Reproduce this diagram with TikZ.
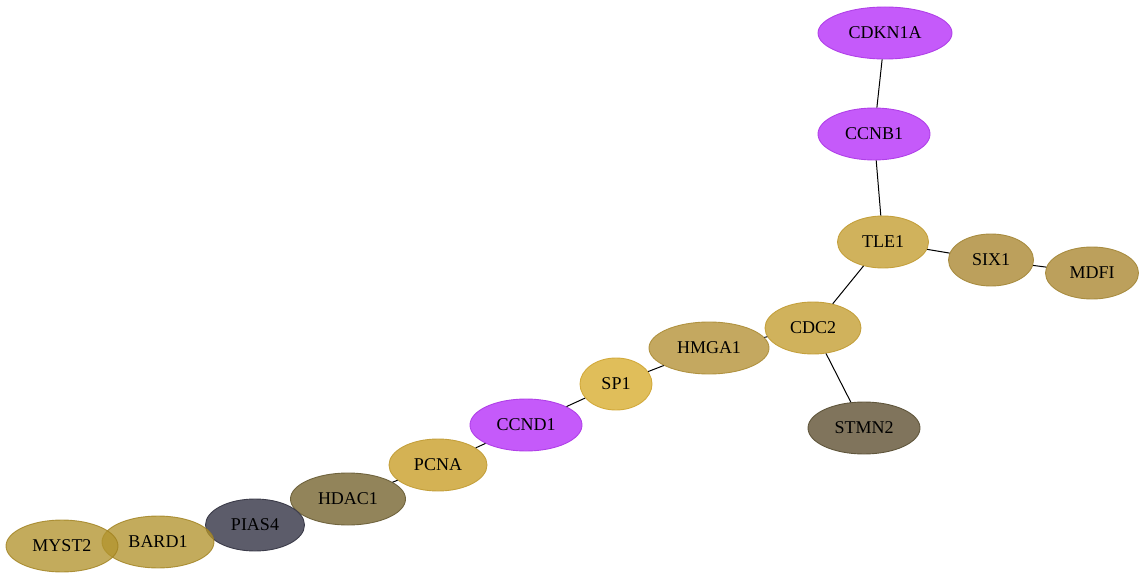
\documentclass[tikz,border=0pt]{standalone}
\usepackage{fontspec}
\setmainfont{Liberation Serif}
\usetikzlibrary{shapes.geometric}
\definecolor{purp}{RGB}{197,90,250}
\definecolor{purpd}{RGB}{176,64,232}
\definecolor{goldA}{RGB}{208,178,92}
\definecolor{goldAd}{RGB}{196,160,60}
\definecolor{goldB}{RGB}{224,190,90}
\definecolor{goldBd}{RGB}{210,170,60}
\definecolor{goldC}{RGB}{196,168,96}
\definecolor{goldCd}{RGB}{176,146,64}
\definecolor{goldD}{RGB}{188,160,92}
\definecolor{goldDd}{RGB}{168,140,64}
\definecolor{goldE}{RGB}{212,178,84}
\definecolor{goldEd}{RGB}{196,160,60}
\definecolor{stm}{RGB}{128,116,92}
\definecolor{stmd}{RGB}{96,86,60}
\definecolor{hdac}{RGB}{146,132,90}
\definecolor{hdacd}{RGB}{112,100,62}
\definecolor{pias}{RGB}{92,92,106}
\definecolor{piasd}{RGB}{60,60,74}
\definecolor{myst}{RGB}{178,148,46}
\definecolor{mystd}{RGB}{160,128,30}
\tikzset{
  gene/.style={ellipse, draw, line width=0.9pt, minimum height=52pt, inner sep=0pt,
    font=\fontsize{18}{20}\selectfont, text=black},
  edge/.style={draw=black, line width=1pt}
}
\begin{document}
\begin{tikzpicture}[x=1pt,y=-1pt]
\useasboundingbox (0,0) rectangle (1145,580);
\node[gene, fill=purp, draw=purpd, minimum width=134pt] (CDKN1A) at (885,33) {CDKN1A};
\node[gene, fill=purp, draw=purpd, minimum width=112pt] (CCNB1) at (874,134) {CCNB1};
\node[gene, fill=goldA, draw=goldAd, minimum width=91pt] (TLE1) at (883,242) {TLE1};
\node[gene, fill=goldD, draw=goldDd, minimum width=85pt] (SIX1) at (991,260) {SIX1};
\node[gene, fill=goldD, draw=goldDd, minimum width=93pt] (MDFI) at (1092,273) {MDFI};
\node[gene, fill=goldA, draw=goldAd, minimum width=96pt] (CDC2) at (813,328) {CDC2};
\node[gene, fill=stm, draw=stmd, minimum width=112pt] (STMN2) at (864,428) {STMN2};
\node[gene, fill=goldC, draw=goldCd, minimum width=120pt] (HMGA1) at (709,348) {HMGA1};
\node[gene, fill=goldB, draw=goldBd, minimum width=72pt] (SP1) at (616,384) {SP1};
\node[gene, fill=purp, draw=purpd, minimum width=112pt] (CCND1) at (526,425) {CCND1};
\node[gene, fill=goldE, draw=goldEd, minimum width=98pt] (PCNA) at (438,465) {PCNA};
\node[gene, fill=hdac, draw=hdacd, minimum width=115pt] (HDAC1) at (348,499) {HDAC1};
\node[gene, fill=pias, draw=piasd, minimum width=99pt] (PIAS4) at (255,525) {PIAS4};
\node[gene, fill=myst, draw=mystd, fill opacity=0.78, draw opacity=0.8, text opacity=1, minimum width=112pt] (BARD1) at (158,542) {BARD1};
\node[gene, fill=myst, draw=mystd, fill opacity=0.78, draw opacity=0.8, text opacity=1, minimum width=112pt] (MYST2) at (62,546) {MYST2};
\draw[edge] (CDKN1A) -- (CCNB1);
\draw[edge] (CCNB1) -- (TLE1);
\draw[edge] (TLE1) -- (SIX1);
\draw[edge] (SIX1) -- (MDFI);
\draw[edge] (TLE1) -- (CDC2);
\draw[edge] (CDC2) -- (STMN2);
\draw[edge] (CDC2) -- (HMGA1);
\draw[edge] (HMGA1) -- (SP1);
\draw[edge] (SP1) -- (CCND1);
\draw[edge] (CCND1) -- (PCNA);
\draw[edge] (PCNA) -- (HDAC1);
\end{tikzpicture}
\end{document}
